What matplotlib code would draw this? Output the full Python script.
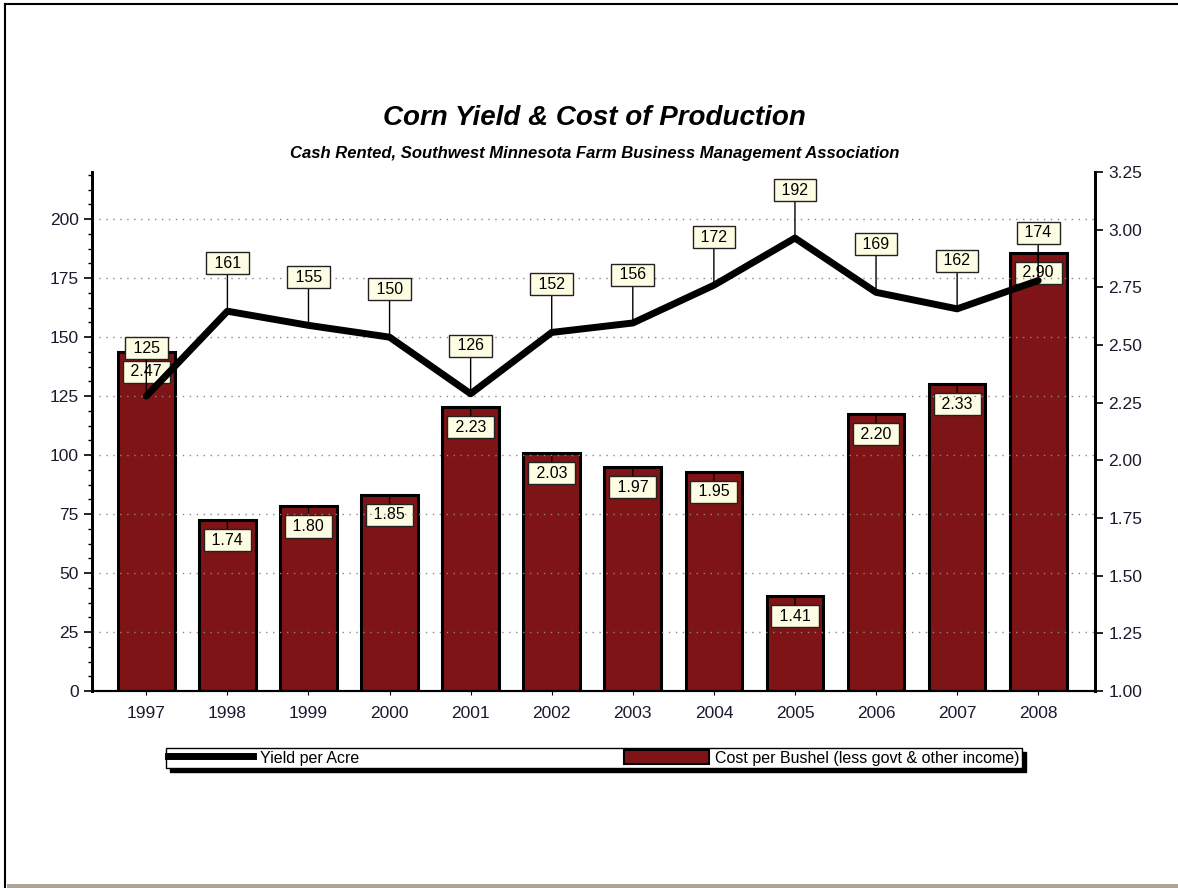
import matplotlib.pyplot as plt
from matplotlib.lines import Line2D
from matplotlib.patches import Patch, Rectangle
from matplotlib.ticker import MultipleLocator

plt.rcParams['font.family'] = ['Liberation Sans', 'DejaVu Sans']

years = ['1997', '1998', '1999', '2000', '2001', '2002', '2003', '2004', '2005', '2006', '2007', '2008']
yield_per_acre = [125, 161, 155, 150, 126, 152, 156, 172, 192, 169, 162, 174]
cost_per_bushel = [2.47, 1.74, 1.80, 1.85, 2.23, 2.03, 1.97, 1.95, 1.41, 2.20, 2.33, 2.90]

bar_color = '#7f1416'
box_style = dict(boxstyle='square,pad=0.22', fc='#fdfde3', ec='#222222', lw=1)

fig = plt.figure(figsize=(11.78, 8.88), dpi=100)
ax2 = fig.add_axes([0.0781, 0.2218, 0.8514, 0.5845])
ax = ax2.twinx()
# yield axis goes on the left, on top of the bars
ax.yaxis.tick_left()
ax2.yaxis.tick_right()
ax.set_zorder(ax2.get_zorder() + 1)
ax.patch.set_visible(False)

x = list(range(len(years)))

# cost bars (right axis)
ax2.bar(x, [c - 1.0 for c in cost_per_bushel], bottom=1.0, width=0.7,
        color=bar_color, edgecolor='black', linewidth=2.2, zorder=2)
ax2.set_ylim(1.0, 3.25)
ax2.yaxis.set_major_locator(MultipleLocator(0.25))
ax2.yaxis.set_major_formatter(plt.FormatStrFormatter('%.2f'))

for xi, c in zip(x, cost_per_bushel):
    ax2.annotate(f' {c:.2f} ', xy=(xi, c), xytext=(0, -20), textcoords='offset pixels',
                 ha='center', va='center', fontsize=11.5, bbox=box_style,
                 arrowprops=dict(arrowstyle='-', color='black', lw=1, shrinkA=0, shrinkB=0),
                 zorder=5)

# yield line (left axis)
ax.plot(x, yield_per_acre, color='black', lw=5, solid_capstyle='round', zorder=3)
ax.set_ylim(0, 220)
ax.yaxis.set_major_locator(MultipleLocator(25))
ax.yaxis.set_minor_locator(MultipleLocator(6.25))
ax.grid(axis='y', which='major', linestyle=(0, (1, 4)), color='#888888', lw=1)

for xi, v in zip(x, yield_per_acre):
    ax.annotate(f' {v} ', xy=(xi, v), xytext=(0, 48), textcoords='offset pixels',
                ha='center', va='center', fontsize=11.5, bbox=box_style,
                arrowprops=dict(arrowstyle='-', color='black', lw=1, shrinkA=0, shrinkB=0),
                zorder=6)

ax.set_xlim(-0.67, 11.7)
ax.set_xticks(x)
ax.set_xticklabels(years)
ax2.set_xticks(x)
ax2.set_xticklabels(years, fontsize=12.5, color='#1a1a2e')
ax.tick_params(axis='x', length=0)
ax2.tick_params(axis='x', length=3, pad=8)

for a in (ax, ax2):
    a.spines['top'].set_visible(False)
    a.spines['left'].set_linewidth(2)
    a.spines['right'].set_linewidth(2)
    a.spines['bottom'].set_linewidth(1.5)
ax.tick_params(axis='y', which='major', labelsize=12.5, labelcolor='#1a1a2e', length=6, width=1.2)
ax.tick_params(axis='y', which='minor', length=3, width=1)
ax2.tick_params(axis='y', labelsize=12.5, labelcolor='#1a1a2e', length=6, width=1.2)

fig.text(0.505, 0.867, 'Corn Yield & Cost of Production', ha='center', va='center',
         fontsize=20, fontweight='bold', fontstyle='italic')
fig.text(0.505, 0.8275, 'Cash Rented, Southwest Minnesota Farm Business Management Association',
         ha='center', va='center', fontsize=12, fontweight='bold', fontstyle='italic')

handles = [Line2D([], [], color='black', lw=5),
           Patch(facecolor=bar_color, edgecolor='black', lw=1.5)]
leg = fig.legend(handles, ['Yield per Acre', 'Cost per Bushel (less govt & other income)'],
                 loc='lower left', bbox_to_anchor=(0.141, 0.1351, 0.7267, 0.0225),
                 mode='expand', ncol=2, fontsize=11.5, handlelength=5.3, handleheight=1.0,
                 handletextpad=0.4, borderpad=0.15, borderaxespad=0, frameon=True, fancybox=False,
                 shadow={'color': 'black', 'alpha': 1, 'ox': 3, 'oy': -3})
leg.get_frame().set_edgecolor('black')
leg.get_frame().set_linewidth(1)

# outer frame of the picture
fig.add_artist(Line2D([0.0045, 0.0045], [0.0, 0.995], transform=fig.transFigure, color='black', lw=1.5))
fig.add_artist(Line2D([0.0045, 1.0], [0.995, 0.995], transform=fig.transFigure, color='black', lw=1.5))
fig.add_artist(Rectangle((0.006, 0.0), 0.994, 0.0045, transform=fig.transFigure,
                         color='#aca596', lw=0))

fig.savefig('out.png', dpi=100)
